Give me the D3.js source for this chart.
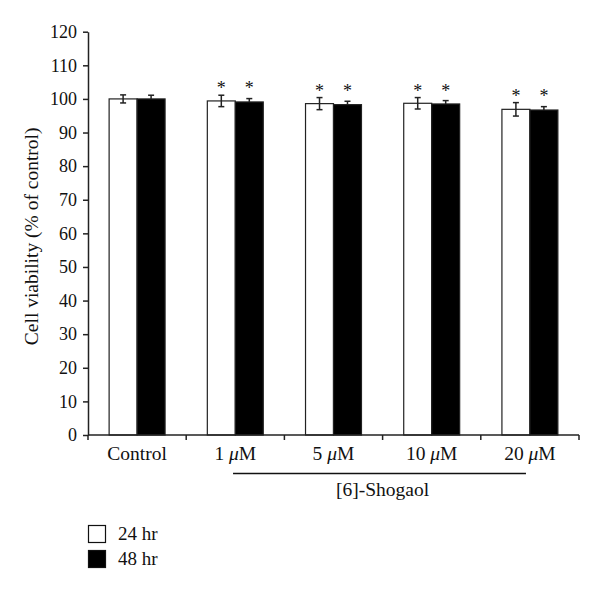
<!DOCTYPE html>
<html>
<head>
<meta charset="utf-8">
<script src="https://cdn.jsdelivr.net/npm/d3@7"></script>
<style>
  body { margin: 0; background: #fff; }
  svg { display: block; }
  text { font-family: "Liberation Serif", "DejaVu Serif", serif; fill: #111; }
</style>
</head>
<body>
<div id="chart"></div>
<script>
// data
const categories = ["Control", "1", "5", "10", "20"];
const series = ["24 hr", "48 hr"];
const values24 = [100, 99.4, 98.6, 98.7, 96.9];
const values48 = [100, 99.1, 98.3, 98.5, 96.7];
const err24 = [1.2, 1.7, 1.8, 1.7, 2.0];
const err48 = [1.1, 1.0, 1.0, 1.0, 1.0];
const signif = [false, true, true, true, true];
const yTicks = [0, 10, 20, 30, 40, 50, 60, 70, 80, 90, 100, 110, 120];

const width = 600, height = 593;
const svg = d3.select("#chart").append("svg")
    .attr("width", width).attr("height", height);

const mLeft = 88, mRight = 579, mTop = 31.7, mBottom = 435;

const y = d3.scaleLinear().domain([0, 120]).range([mBottom, mTop]);
const x0 = d3.scaleBand().domain(categories).range([mLeft, mRight]).padding(0);
const x1 = d3.scaleBand().domain(series).range([0, x0.bandwidth()])
    .paddingInner(0).paddingOuter(0.755);

// y axis
const yAxis = svg.append("g")
    .attr("transform", `translate(${mLeft},0)`)
    .call(d3.axisLeft(y).tickValues(yTicks).tickSize(5).tickPadding(6).tickSizeOuter(0));
yAxis.select(".domain").attr("stroke", "#222").attr("stroke-width", 1.5);
yAxis.selectAll(".tick line").attr("stroke", "#222").attr("stroke-width", 1.5);
yAxis.selectAll(".tick text")
    .style("font-size", "18px")
    .style("font-family", "'Liberation Serif', serif")
    .attr("fill", "#111");

svg.append("text")
    .attr("transform", `translate(37.5,${(mTop + mBottom) / 2 + 3}) rotate(-90)`)
    .attr("text-anchor", "middle")
    .attr("font-size", 19.5)
    .text("Cell viability (% of control)");

// bars
const rows = categories.map((c, i) => ({
  cat: c,
  bars: [
    {s: series[0], v: values24[i], e: err24[i]},
    {s: series[1], v: values48[i], e: err48[i]}
  ],
  sig: signif[i],
  top: Math.max(values24[i] + err24[i], values48[i] + err48[i])
}));

const grp = svg.selectAll(".grp").data(rows).enter().append("g")
    .attr("class", "grp")
    .attr("transform", d => `translate(${x0(d.cat)},0)`);

const bar = grp.selectAll(".bar")
  .data(d => d.bars.map(b => Object.assign({sig: d.sig, top: d.top}, b)))
  .enter().append("g").attr("class", "bar");

bar.append("rect")
    .attr("x", d => x1(d.s))
    .attr("y", d => y(d.v))
    .attr("width", x1.bandwidth())
    .attr("height", d => y(0) - y(d.v))
    .attr("fill", d => d.s === series[0] ? "#fff" : "#000")
    .attr("stroke", "#222")
    .attr("stroke-width", 1.2);

// error bars (below the top of the black bar they vanish into the fill)
const cx = d => x1(d.s) + x1.bandwidth() / 2;
bar.append("line")
    .attr("x1", cx).attr("x2", cx)
    .attr("y1", d => y(d.v + d.e))
    .attr("y2", d => d.s === series[0] ? y(d.v - d.e) : y(d.v))
    .attr("stroke", "#222")
    .attr("stroke-width", 1.5);
bar.append("line")
    .attr("x1", d => cx(d) - 3).attr("x2", d => cx(d) + 3)
    .attr("y1", d => y(d.v + d.e)).attr("y2", d => y(d.v + d.e))
    .attr("stroke", "#222").attr("stroke-width", 1.5);
bar.filter(d => d.s === series[0]).append("line")
    .attr("x1", d => cx(d) - 3).attr("x2", d => cx(d) + 3)
    .attr("y1", d => y(d.v - d.e)).attr("y2", d => y(d.v - d.e))
    .attr("stroke", "#222").attr("stroke-width", 1.5);

// asterisks
bar.filter(d => d.sig).append("text")
    .attr("x", cx)
    .attr("y", d => y(d.top) - 1)
    .attr("text-anchor", "middle")
    .attr("font-size", 18)
    .attr("fill", "#444")
    .text("*");

// x axis
svg.append("line")
    .attr("x1", mLeft).attr("x2", mRight)
    .attr("y1", mBottom).attr("y2", mBottom)
    .attr("stroke", "#222").attr("stroke-width", 1.5);
svg.selectAll(".xtick").data(categories).enter().append("line")
    .attr("class", "xtick")
    .attr("x1", d => x0(d) + x0.bandwidth()).attr("x2", d => x0(d) + x0.bandwidth())
    .attr("y1", mBottom).attr("y2", mBottom + 5)
    .attr("stroke", "#222").attr("stroke-width", 1.5);
svg.append("line")
    .attr("x1", mLeft).attr("x2", mLeft)
    .attr("y1", mBottom).attr("y2", mBottom + 5)
    .attr("stroke", "#222").attr("stroke-width", 1.5);

const xl = svg.selectAll(".xlab").data(categories).enter().append("text")
    .attr("class", "xlab")
    .attr("x", d => x0(d) + x0.bandwidth() / 2)
    .attr("y", 460)
    .attr("text-anchor", "middle")
    .attr("font-size", 19.5);
xl.each(function(d) {
  const t = d3.select(this);
  if (d === "Control") { t.text(d); return; }
  t.append("tspan").text(d + " ");
  t.append("tspan").attr("font-style", "italic").text("\u03bc");
  t.append("tspan").text("M");
});

// [6]-Shogaol bracket
const first = categories[1], last = categories[categories.length - 1];
const bx1 = x0(first) + x0.bandwidth() * 0.477, bx2 = x0(last) + x0.bandwidth() * 0.46;
svg.append("line")
    .attr("x1", bx1).attr("x2", bx2)
    .attr("y1", 473.5).attr("y2", 473.5)
    .attr("stroke", "#111").attr("stroke-width", 1.5);
svg.append("text")
    .attr("x", (bx1 + bx2) / 2 + 3)
    .attr("y", 496)
    .attr("text-anchor", "middle")
    .attr("font-size", 19.5)
    .text("[6]-Shogaol");

// legend
const legend = svg.selectAll(".leg").data(series).enter().append("g")
    .attr("class", "leg")
    .attr("transform", (d, i) => `translate(88,${525 + i * 25})`);
legend.append("rect")
    .attr("x", 0.5).attr("y", 0.5)
    .attr("width", 17).attr("height", 17)
    .attr("fill", (d, i) => i === 0 ? "#fff" : "#000")
    .attr("stroke", "#111").attr("stroke-width", 1.2);
legend.append("text")
    .attr("x", 30).attr("y", 14.5)
    .attr("font-size", 19)
    .text(d => d);
</script>
</body>
</html>
